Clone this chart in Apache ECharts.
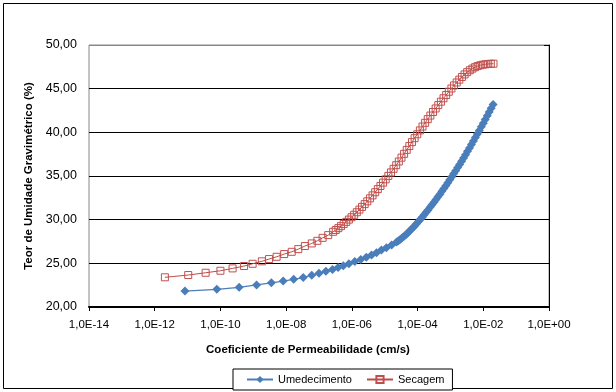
<!DOCTYPE html>
<html>
<head>
<meta charset="utf-8">
<script src="https://cdn.jsdelivr.net/npm/echarts@6/dist/echarts.min.js"></script>
<style>
html,body{margin:0;padding:0;background:#fff;}
#chart{width:616px;height:392px;}
</style>
</head>
<body>
<div id="chart"></div>
<script>
// X values are log10 of the permeability coefficient (cm/s)
var logKUmedecimento = [-11.08,-10.11,-9.43,-8.90,-8.45,-8.09,-7.77,-7.48,-7.22,-7.00,-6.79,-6.59,-6.42,-6.26,-6.09,-5.91,-5.73,-5.56,-5.40,-5.25,-5.10,-4.95,-4.79,-4.64,
  -4.58,-4.52,-4.46,-4.40,-4.34,-4.28,-4.22,-4.16,-4.10,-4.04,-3.98,-3.92,-3.86,-3.80,-3.74,-3.68,-3.62,-3.56,-3.50,-3.44,-3.38,-3.32,-3.26,-3.20,-3.14,-3.08,-3.02,-2.96,-2.90,-2.84,-2.78,-2.72,-2.66,-2.60,-2.54,-2.48,-2.42,-2.36,-2.30,-2.24,-2.18,-2.12,-2.06,-2.00,-1.94,-1.88,-1.82,-1.76,-1.70];
var teorUmedecimento = [21.83,22.02,22.25,22.52,22.77,22.97,23.17,23.37,23.64,23.86,24.08,24.29,24.52,24.71,24.94,25.20,25.45,25.70,25.95,26.21,26.52,26.78,27.09,27.43,
  27.59,27.76,27.95,28.14,28.34,28.56,28.78,29.01,29.25,29.50,29.76,30.02,30.29,30.56,30.84,31.12,31.41,31.70,32.00,32.30,32.61,32.92,33.24,33.56,33.89,34.22,34.56,34.90,35.25,35.60,35.96,36.32,36.69,37.06,37.44,37.82,38.21,38.60,39.00,39.40,39.80,40.21,40.63,41.04,41.46,41.89,42.32,42.75,43.19];

var logKSecagem = [-11.69,-10.98,-10.45,-10.00,-9.63,-9.28,-9.02,-8.74,-8.52,-8.29,-8.06,-7.83,-7.63,-7.43,-7.22,-7.05,-6.89,-6.72,-6.57,
  -6.49,-6.41,-6.33,-6.25,-6.17,-6.09,-6.01,-5.93,-5.85,-5.77,-5.69,-5.61,-5.53,-5.45,-5.37,-5.29,-5.21,-5.13,-5.05,-4.97,-4.89,-4.81,-4.73,-4.65,-4.57,-4.49,-4.41,-4.33,-4.25,-4.17,-4.09,-4.01,-3.93,-3.85,-3.77,-3.69,-3.61,-3.53,-3.45,-3.37,-3.29,-3.21,-3.13,-3.05,-2.97,-2.89,-2.81,-2.73,-2.65,-2.57,-2.49,-2.41,-2.33,-2.25,-2.17,-2.09,-2.01,-1.93,-1.85,-1.77,-1.69];
var teorSecagem = [23.40,23.66,23.92,24.15,24.42,24.69,24.95,25.23,25.49,25.75,26.06,26.32,26.63,26.98,27.28,27.58,27.92,28.23,28.61,
  28.82,29.03,29.26,29.50,29.75,30.01,30.28,30.56,30.85,31.15,31.46,31.78,32.10,32.44,32.78,33.14,33.50,33.86,34.24,34.62,35.01,35.41,35.82,36.24,36.66,37.10,37.54,37.99,38.43,38.88,39.33,39.78,40.22,40.66,41.09,41.51,41.92,42.33,42.73,43.12,43.51,43.90,44.27,44.65,45.02,45.37,45.71,46.03,46.34,46.63,46.89,47.11,47.30,47.46,47.59,47.68,47.75,47.79,47.83,47.85,47.86];

var seriesNames = ['Umedecimento','Secagem'];
var xAxisTitle = 'Coeficiente de Permeabilidade (cm/s)';
var yAxisTitle = 'Teor de Umidade Gravimétrico (%)';
var xMinExp = -14, xMaxExp = 0, xStepExp = 2;
var yMin = 20, yMax = 50, yStep = 5;

function pairs(xs, ys){ return xs.map(function(x,i){ return [x, ys[i]]; }); }
function fmtX(v){
  var e = Math.round(v);
  var s = e < 0 ? '-' : '+';
  var a = Math.abs(e);
  return '1,0E' + s + (a < 10 ? '0' : '') + a;
}
function fmtY(v){ return v.toFixed(2).replace('.', ','); }

var FONT = 'Liberation Sans, Arial, sans-serif';
var chart = echarts.init(document.getElementById('chart'), null, {renderer:'canvas'});
chart.setOption({
  animation: false,
  backgroundColor: '#fff',
  graphic: [{
    type: 'rect', shape: {x: 3.5, y: 3.5, width: 609, height: 385},
    style: {fill: 'none', stroke: '#000', lineWidth: 1}, z: -10
  }],
  grid: {left: 89, right: 67, top: 45, bottom: 85, show: true, borderColor: '#888', borderWidth: 1, backgroundColor: '#fff'},
  xAxis: {
    type: 'value', min: xMinExp, max: xMaxExp, interval: xStepExp,
    name: xAxisTitle, nameLocation: 'middle', nameGap: 37,
    nameTextStyle: {fontFamily: FONT, fontSize: 11.5, fontWeight: 'bold', color: '#000', padding: [0, 22, 0, 0]},
    axisLine: {show: true, onZero: false, lineStyle: {color: '#000', width: 2}},
    axisTick: {show: true, inside: false, length: 4, lineStyle: {color: '#000'}},
    axisLabel: {formatter: fmtX, fontFamily: FONT, fontSize: 11.5, color: '#000', margin: 12},
    splitLine: {show: false}
  },
  yAxis: {
    type: 'value', min: yMin, max: yMax, interval: yStep,
    name: yAxisTitle, nameLocation: 'middle', nameGap: 51,
    nameTextStyle: {fontFamily: FONT, fontSize: 11.5, fontWeight: 'bold', color: '#000'},
    axisLine: {show: true, lineStyle: {color: '#000', width: 1}},
    axisTick: {show: true, inside: false, length: 5, lineStyle: {color: '#000'}},
    axisLabel: {formatter: fmtY, fontFamily: FONT, fontSize: 12.5, color: '#000', margin: 12},
    splitLine: {show: true, lineStyle: {color: ['#000','#000','#000','#000','#000','#000','#888'], width: 1}}
  },
  legend: {
    data: seriesNames, left: 233, top: 369,
    orient: 'horizontal', itemWidth: 26, itemHeight: 9, itemGap: 14,
    padding: [5, 8, 5, 13],
    borderColor: '#000', borderWidth: 1, backgroundColor: '#fff',
    textStyle: {fontFamily: FONT, fontSize: 11, color: '#000'}
  },
  series: [{
    name: seriesNames[0], type: 'line', data: pairs(logKUmedecimento, teorUmedecimento),
    symbol: 'diamond', symbolSize: 9,
    itemStyle: {color: '#4A7EBB'},
    lineStyle: {color: '#4A7EBB', width: 1.25},
    z: 3
  },{
    name: seriesNames[1], type: 'line', data: pairs(logKSecagem, teorSecagem),
    symbol: 'rect', symbolSize: 7,
    itemStyle: {color: 'rgba(255,255,255,0)', borderColor: '#C0504D', borderWidth: 1},
    lineStyle: {color: '#BE4B48', width: 1},
    z: 2
  }]
});
</script>
</body>
</html>
